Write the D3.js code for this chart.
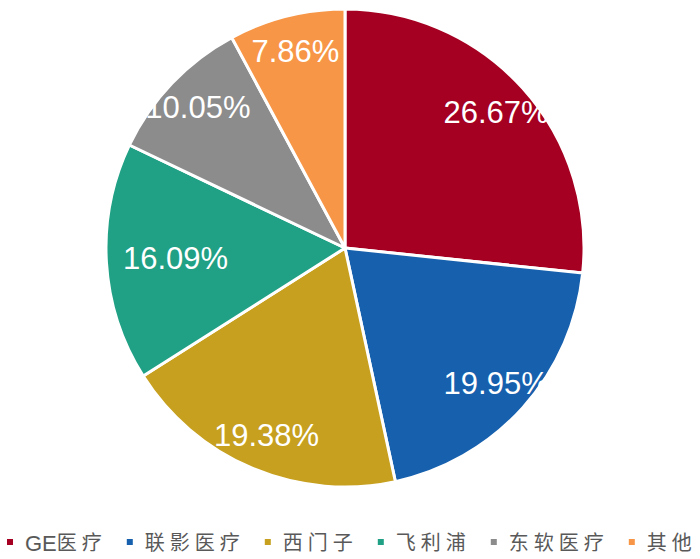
<!DOCTYPE html>
<html>
<head>
<meta charset="utf-8">
<script src="https://cdn.jsdelivr.net/npm/d3@7/dist/d3.min.js"></script>
<style>
html,body{margin:0;padding:0;background:#fff;}
svg{display:block;}
</style>
</head>
<body>
<svg id="chart" width="700" height="559"></svg>
<script>
const categories = ["GE医疗", "联影医疗", "西门子", "飞利浦", "东软医疗", "其他"];
const shares = [26.67, 19.95, 19.38, 16.09, 10.05, 7.86];
const labels = ["26.67%", "19.95%", "19.38%", "16.09%", "10.05%", "7.86%"];
const colors = ["#A50021", "#1660AE", "#C6A01E", "#20A084", "#8C8C8C", "#F79646"];

const svg = d3.select("#chart");
const cx = 345, cy = 248, R = 239;

const data = categories.map((c, i) => ({name: c, value: shares[i], label: labels[i], color: colors[i]}));

const pie = d3.pie().value(d => d.value).sort(null).startAngle(0).endAngle(2 * Math.PI);
const arcs = pie(data);
const arc = d3.arc().innerRadius(0).outerRadius(R);
const rLabel = R * 0.85;

const g = svg.append("g").attr("transform", `translate(${cx},${cy})`);
g.selectAll("path.slice").data(arcs).enter().append("path")
  .attr("class", "slice")
  .attr("d", arc)
  .attr("fill", d => d.data.color)
  .attr("stroke", "#fff")
  .attr("stroke-width", 3)
  .attr("stroke-linejoin", "round");

const lbls = g.selectAll("text.lbl").data(arcs).enter().append("text")
  .attr("class", "lbl")
  .attr("text-anchor", "middle")
  .attr("dominant-baseline", "central")
  .attr("fill", "#fff")
  .style("font-family", "'Liberation Sans', Arial, sans-serif")
  .style("font-size", "31px")
  .text(d => d.data.label);

lbls.each(function(d) {
  const hw = this.getComputedTextLength() / 2;
  const a = (d.startAngle + d.endAngle) / 2;
  let r = rLabel;
  const sx = Math.abs(Math.sin(a));
  if (r * sx + hw > R - 17) r = (R - 17 - hw) / sx;
  d3.select(this).attr("transform", `translate(${r * Math.sin(a)},${-r * Math.cos(a)})`);
});

// legend
const lg = svg.append("g").attr("transform", `translate(0, 542)`);
let x = 7;
data.forEach((d) => {
  const item = lg.append("g").attr("transform", `translate(${x},0)`);
  item.append("rect").attr("x", 0).attr("y", -3).attr("width", 6).attr("height", 6).attr("fill", d.color);
  const t = item.append("text")
    .attr("x", 18).attr("y", 1)
    .attr("dominant-baseline", "central")
    .attr("fill", "#595959")
    .style("font-family", "'Liberation Sans', 'Noto Sans CJK SC', sans-serif")
    .style("font-size", "20px");
  const m = d.name.match(/^([A-Za-z]*)(.*)$/);
  if (m[1]) t.append("tspan").text(m[1]).style("font-size", "22px");
  t.append("tspan").text(m[2]).style("letter-spacing", "5px");
  const w = t.node().getComputedTextLength();
  x += 18 + w + 20;
});
</script>
</body>
</html>
